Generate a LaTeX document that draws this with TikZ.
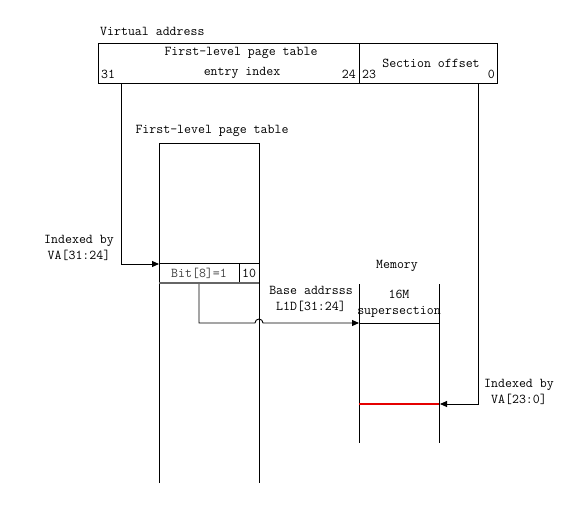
\documentclass[tikz,border=0pt]{standalone}
\usetikzlibrary{arrows.meta}
\begin{document}
\begin{tikzpicture}[x=1pt,y=-1pt,
  lbl/.style={inner sep=0pt,font=\ttfamily\fontsize{13.5}{15.5}\selectfont,align=center},
  ln/.style={line width=0.9pt,black},
  arr/.style={ln,-{Triangle[length=7pt,width=6pt]}}]
\useasboundingbox (0,0) rectangle (574,522);
% virtual address box
\draw[ln] (98,43) rectangle (497,83);
\draw[ln] (359,43) -- (359,83);
\node[lbl,anchor=west] (va) at (100,31) {Virtual address};
\node[lbl] (fl) at (241,53) {First-level page table};
\node[lbl] (ei) at (242,73) {entry index};
\node[lbl,anchor=west] (b31) at (101,74) {31};
\node[lbl,anchor=east] (b24) at (356,74) {24};
\node[lbl,anchor=west] (b23) at (362,74) {23};
\node[lbl] (so) at (431,63) {Section offset};
\node[lbl,anchor=east] (b0) at (495,74) {0};
% coordinates
\coordinate (s1) at (121,83);
\coordinate (t1) at (159,264);
\coordinate (s2) at (478,83);
\coordinate (t2) at (440,404);
% first-level page table
\node[lbl] (fltl) at (212,131) {First-level page table};
\draw[ln] (159,483) -- (159,143) -- (259,143) -- (259,483);
\draw[ln] (159,263) -- (259,263);
\draw[ln] (239,263) -- (239,283);
\draw[line width=1.3pt,black!60] (159,283) -- (259,283);
\node[lbl,text=black!75] (bit) at (199,273) {Bit[8]=1};
\node[lbl] (ten) at (249,273) {10};
\node[lbl] (ix1) at (79,248) {Indexed by\\VA[31:24]};
\draw[arr] (s1) |- (t1);
% memory
\node[lbl] (mem) at (397,266) {Memory};
\draw[ln] (359,284) -- (359,443);
\draw[ln] (439,284) -- (439,443);
\draw[ln] (359,323) -- (439,323);
\node[lbl] (sup) at (399,304) {16M\\supersection};
\draw[line width=1.3pt,red!90!black] (359,404) -- (439,404);
\coordinate (memin) at (359,323);
\node[lbl] (ba) at (311,299) {Base addrsss\\L1D[31:24]};
\coordinate (es) at (199,284);
\draw[arr] (es) -- (199,323) -- (255,323) arc[start angle=180,end angle=360,radius=4] -- (memin);
\node[lbl] (ix2) at (519,392) {Indexed by\\VA[23:0]};
\draw[arr] (s2) |- (t2);
\end{tikzpicture}
\end{document}
